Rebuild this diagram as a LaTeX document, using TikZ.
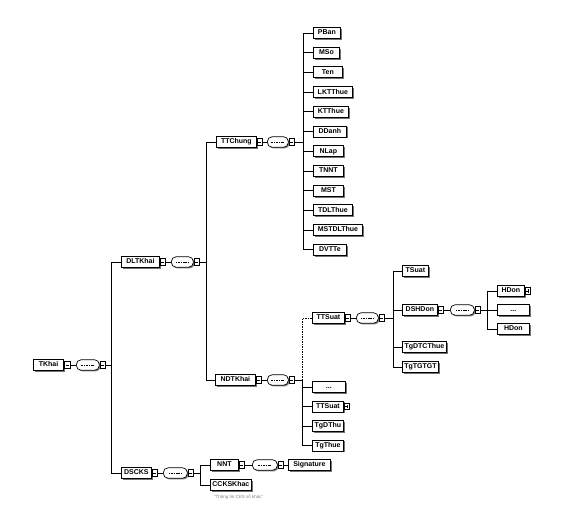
\documentclass[tikz,border=0pt]{standalone}
\usepackage{fontspec}
\setmainfont{Liberation Sans}
\usetikzlibrary{shadows}
\begin{document}
\begin{tikzpicture}[x=1pt,y=-1pt,
  ln/.style={line width=0.7pt, draw=black},
  opt/.style={ln, dash pattern=on 1.5pt off 1pt},
  el/.style={draw, line width=0.8pt, fill=white, anchor=west,
    font=\fontsize{7}{8}\selectfont\bfseries, inner xsep=2pt, inner ysep=0pt,
    minimum width=#1, minimum height=11pt, text height=5.2pt, text depth=1.3pt,
    drop shadow={shadow xshift=1.4pt, shadow yshift=-1.4pt, fill=black!55, opacity=1}},
  ic/.style={path picture={\fill (path picture bounding box.north west) ++(0.8pt,-0.8pt) rectangle ++(3pt,-3pt);}},
  seq/.style={draw, line width=0.7pt, fill=white, anchor=west, minimum width=#1,
    minimum height=10.5pt, inner sep=0pt, rounded corners=4.8pt,
    drop shadow={shadow xshift=1.2pt, shadow yshift=-1.2pt, fill=black!50, opacity=1},
    path picture={\draw[line width=0.9pt, dash pattern=on 1.6pt off 0.8pt]
      ([xshift=-6.5pt]path picture bounding box.center) -- ([xshift=6.5pt]path picture bounding box.center);}},
  ex/.style={draw, line width=0.55pt, fill=white, anchor=west, minimum width=5.5pt,
    minimum height=6.5pt, inner sep=0pt,
    path picture={\draw[line width=0.55pt] ([xshift=-1.6pt]path picture bounding box.center) -- ([xshift=1.6pt]path picture bounding box.center);}},
  exp/.style={draw, line width=0.55pt, fill=white, anchor=west, minimum width=5.5pt,
    minimum height=6.5pt, inner sep=0pt,
    path picture={\draw[line width=0.55pt] ([xshift=-1.6pt]path picture bounding box.center) -- ([xshift=1.6pt]path picture bounding box.center);
      \draw[line width=0.55pt] ([yshift=-1.6pt]path picture bounding box.center) -- ([yshift=1.6pt]path picture bounding box.center);}},
  notetext/.style={font=\fontsize{4.5}{5}\selectfont, text=black!50, anchor=west, inner sep=0pt}
]
\fill[white] (0,0) rectangle (588,508);
\useasboundingbox (0,0) rectangle (588,508);

% ---------- root ----------
\node[el=30pt, line width=1.1pt] (tkhai) at (33,365) {TKhai};
\node[ex] (tkx) at (tkhai.east) {};
\node[seq=23pt] (tks) at (76,365) {};
\node[ex] (tksx) at (tks.east) {};
\coordinate (bTK) at (111,365);

% ---------- DLTKhai ----------
\node[el=38pt] (dltkhai) at (121,262) {DLTKhai};
\node[ex] (dlx) at (dltkhai.east) {};
\node[seq=22pt] (dls) at (171,262) {};
\node[ex] (dlsx) at (dls.east) {};
\coordinate (bDL) at (206,262);

% ---------- TTChung ----------
\node[el=40pt] (ttchung) at (216,142) {TTChung};
\node[ex] (ttcx) at (ttchung.east) {};
\node[seq=21pt] (ttcs) at (267,142) {};
\node[ex] (ttcsx) at (ttcs.east) {};
\coordinate (bTT) at (303,142);

\node[el=27pt, ic] (pban) at (313,33) {PBan};
\node[el=26pt, ic] (mso) at (313,52.7) {MSo};
\node[el=29pt, ic] (ten) at (313,72.4) {Ten};
\node[el=39pt, ic] (lktthue) at (313,92.1) {LKTThue};
\node[el=35pt, ic] (ktthue) at (313,111.8) {KTThue};
\node[el=33pt, ic] (ddanh) at (313,131.5) {DDanh};
\node[el=30pt, ic] (nlap) at (313,151.2) {NLap};
\node[el=30pt, ic] (tnnt) at (313,170.9) {TNNT};
\node[el=30pt, ic] (mst) at (313,190.6) {MST};
\node[el=39pt, ic] (tdlthue) at (313,210.3) {TDLThue};
\node[el=49pt, ic] (mstdlthue) at (313,230) {MSTDLThue};
\node[el=33pt, ic] (dvtte) at (313,249.7) {DVTTe};

% ---------- NDTKhai ----------
\node[el=40pt] (ndtkhai) at (215,380) {NDTKhai};
\node[ex] (ndx) at (ndtkhai.east) {};
\node[seq=21pt] (nds) at (267,380) {};
\node[ex] (ndsx) at (nds.east) {};
\coordinate (bND) at (302,380);

\node[el=32pt] (ttsuat) at (312,318) {TTSuat};
\node[ex] (ttsx) at (ttsuat.east) {};
\node[seq=22pt] (ttss) at (356,318) {};
\node[ex] (ttssx) at (ttss.east) {};
\coordinate (bTS) at (393,318);

\node[el=33pt, ic] (ndots) at (312,387) {...};
\node[el=31pt] (ttsuatb) at (312,406.5) {TTSuat};
\node[exp] (ttsbx) at (ttsuatb.east) {};
\node[el=31pt, ic] (tgdthu) at (312,426) {TgDThu};
\node[el=31pt, ic] (tgthue) at (312,445.5) {TgThue};

% ---------- TTSuat children ----------
\node[el=26pt, ic] (tsuat) at (402,271) {TSuat};
\node[el=35pt] (dshdon) at (402,310) {DSHDon};
\node[ex] (dshx) at (dshdon.east) {};
\node[seq=24pt] (dshs) at (450,310) {};
\node[ex] (dshsx) at (dshs.east) {};
\coordinate (bDS) at (487,310);
\node[el=44pt, ic] (tgdtcthue) at (402,347) {TgDTCThue};
\node[el=35pt, ic] (tgtgtgt) at (402,367) {TgTGTGT};

\node[el=27pt] (hdona) at (497,291) {HDon};
\node[exp] (hdonax) at (hdona.east) {};
\node[el=32pt, ic] (hdots) at (497,310) {...};
\node[el=32pt, ic] (hdonb) at (497,329) {HDon};

% ---------- DSCKS ----------
\node[el=30pt] (dscks) at (121,473) {DSCKS};
\node[ex] (dscx) at (dscks.east) {};
\node[seq=24pt] (dscs) at (163,473) {};
\node[ex] (dscsx) at (dscs.east) {};
\coordinate (bCK) at (200,473);

\node[el=28pt] (nnt) at (210,465) {NNT};
\node[ex] (nntx) at (nnt.east) {};
\node[seq=25pt] (nnts) at (252,465) {};
\node[ex] (nntsx) at (nnts.east) {};
\node[el=42pt] (signature) at (288,465) {Signature};
\node[el=40pt, ic] (ccks) at (210,485) {CCKSKhac};
\node[notetext] (ccksnote) at (214,497.5) {"Thông tin CKS số khác"};

% ---------- connectors ----------
\draw[ln] (tkx.east) -- (tks.west);
\draw[ln] (tksx.east) -- (bTK);
\draw[ln] (bTK) |- (dltkhai.west);
\draw[ln] (bTK) |- (dscks.west);

\draw[ln] (dlx.east) -- (dls.west);
\draw[ln] (dlsx.east) -- (bDL);
\draw[ln] (bDL) |- (ttchung.west);
\draw[ln] (bDL) |- (ndtkhai.west);

\draw[ln] (ttcx.east) -- (ttcs.west);
\draw[ln] (ttcsx.east) -- (bTT);
\foreach \n in {pban,mso,ten,lktthue,ktthue,ddanh,nlap,tnnt,mst,tdlthue,mstdlthue,dvtte}
  \draw[ln] (bTT) |- (\n.west);

\draw[ln] (ndx.east) -- (nds.west);
\draw[ln] (ndsx.east) -- (bND);
\draw[opt] (bND) |- (ttsuat.west);
\foreach \n in {ndots,ttsuatb,tgdthu,tgthue}
  \draw[ln] (bND) |- (\n.west);

\draw[ln] (ttsx.east) -- (ttss.west);
\draw[ln] (ttssx.east) -- (bTS);
\foreach \n in {tsuat,dshdon,tgdtcthue,tgtgtgt}
  \draw[ln] (bTS) |- (\n.west);

\draw[ln] (dshx.east) -- (dshs.west);
\draw[ln] (dshsx.east) -- (bDS);
\foreach \n in {hdona,hdots,hdonb}
  \draw[ln] (bDS) |- (\n.west);

\draw[ln] (dscx.east) -- (dscs.west);
\draw[ln] (dscsx.east) -- (bCK);
\draw[ln] (bCK) |- (nnt.west);
\draw[ln] (bCK) |- (ccks.west);
\draw[ln] (nntx.east) -- (nnts.west);
\draw[ln] (nntsx.east) -- (signature.west);
\end{tikzpicture}
\end{document}
